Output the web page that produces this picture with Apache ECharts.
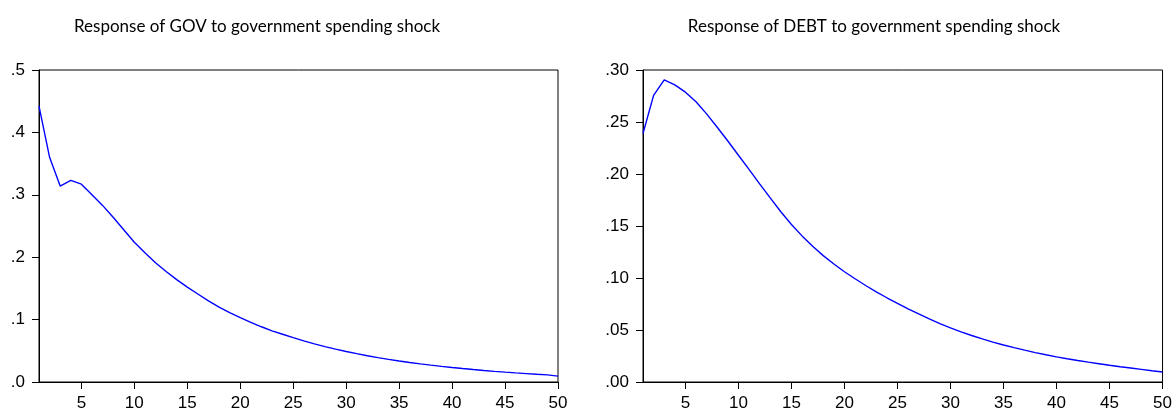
<!DOCTYPE html>
<html>
<head>
<meta charset="utf-8">
<script src="https://cdn.jsdelivr.net/npm/echarts@6/dist/echarts.min.js"></script>
<style>
  html, body { margin: 0; padding: 0; background: #fff; }
  #chart { width: 1175px; height: 412px; }
</style>
</head>
<body>
<div id="chart"></div>
<script>
// Impulse-response horizon (periods 1..50)
const periods = Array.from({ length: 50 }, (_, i) => String(i + 1));

const titleGov = 'Response of GOV to government spending shock';
const titleDebt = 'Response of DEBT to government spending shock';

// Response of GOV
const govResponse = [
  0.442, 0.360, 0.314, 0.323, 0.317, 0.300, 0.283, 0.264, 0.244, 0.224,
  0.207, 0.191, 0.177, 0.164, 0.152, 0.141, 0.130, 0.120, 0.111, 0.103,
  0.0955, 0.0885, 0.082, 0.0765, 0.071, 0.066, 0.0612, 0.0568, 0.0527, 0.0489,
  0.0454, 0.0421, 0.0391, 0.0363, 0.0337, 0.0313, 0.0291, 0.0270, 0.0251, 0.0233,
  0.0216, 0.0200, 0.0185, 0.0171, 0.0158, 0.0146, 0.0135, 0.0124, 0.0114, 0.0095
];

// Response of DEBT
const debtResponse = [
  0.239, 0.2756, 0.2905, 0.2857, 0.2787, 0.2695, 0.2578, 0.2450, 0.2317, 0.2180,
  0.2045, 0.1905, 0.1770, 0.1637, 0.1515, 0.1405, 0.1305, 0.1215, 0.1135, 0.1060,
  0.0993, 0.0928, 0.0867, 0.0810, 0.0755, 0.0703, 0.0654, 0.0607, 0.0562, 0.0520,
  0.0482, 0.0447, 0.0414, 0.0384, 0.0356, 0.0330, 0.0306, 0.0283, 0.0262, 0.0242,
  0.0224, 0.0207, 0.0191, 0.0176, 0.0161, 0.0147, 0.0134, 0.0121, 0.0108, 0.0096
];

// Tick label text: EViews-style, leading zero dropped
const fmtOne = v => '.' + Math.round(v * 10);
const fmtTwo = v => '.' + String(Math.round(v * 100)).padStart(2, '0');

const axisFont = { fontFamily: 'Liberation Sans, Arial, sans-serif', fontSize: 17, color: '#000' };
const everyFifth = idx => (idx + 1) % 5 === 0;

function xAxisFor(gridIndex) {
  return {
    type: 'category', gridIndex, data: periods, boundaryGap: false,
    axisLine: { lineStyle: { color: '#000', width: 1 } },
    axisTick: { show: true, interval: everyFifth, length: 7, lineStyle: { color: '#000' } },
    axisLabel: Object.assign({ interval: everyFifth, margin: 13 }, axisFont),
    splitLine: { show: false }
  };
}

function yAxisFor(gridIndex, max, interval, fmt) {
  return {
    type: 'value', gridIndex, min: 0, max, interval,
    axisLine: { show: true, lineStyle: { color: '#000', width: 1 } },
    axisTick: { show: true, length: 7, lineStyle: { color: '#000' } },
    axisLabel: Object.assign({ formatter: fmt, margin: 14 }, axisFont),
    splitLine: { show: false }
  };
}

const titleFont = { fontFamily: 'Lato, "Open Sans", sans-serif', fontSize: 17, fill: '#000' };

const chart = echarts.init(document.getElementById('chart'), null, { renderer: 'canvas' });
chart.setOption({
  animation: false,
  backgroundColor: '#fff',
  graphic: [
    { type: 'text', x: 257, y: 27, style: Object.assign({ text: titleGov, textAlign: 'center', textVerticalAlign: 'middle' }, titleFont) },
    { type: 'text', x: 874, y: 27, style: Object.assign({ text: titleDebt, textAlign: 'center', textVerticalAlign: 'middle' }, titleFont) }
  ],
  grid: [
    { left: 39, right: 617, top: 70, bottom: 27, show: true, borderColor: '#000', borderWidth: 1, backgroundColor: '#fff' },
    { left: 643, right: 9, top: 70, bottom: 27, show: true, borderColor: '#000', borderWidth: 1, backgroundColor: '#fff' }
  ],
  xAxis: [xAxisFor(0), xAxisFor(1)],
  yAxis: [yAxisFor(0, 0.5, 0.1, fmtOne), yAxisFor(1, 0.30, 0.05, fmtTwo)],
  series: [
    { type: 'line', xAxisIndex: 0, yAxisIndex: 0, data: govResponse, showSymbol: false,
      lineStyle: { color: '#0000ff', width: 1.4 }, silent: true },
    { type: 'line', xAxisIndex: 1, yAxisIndex: 1, data: debtResponse, showSymbol: false,
      lineStyle: { color: '#0000ff', width: 1.4 }, silent: true }
  ]
});
</script>
</body>
</html>
